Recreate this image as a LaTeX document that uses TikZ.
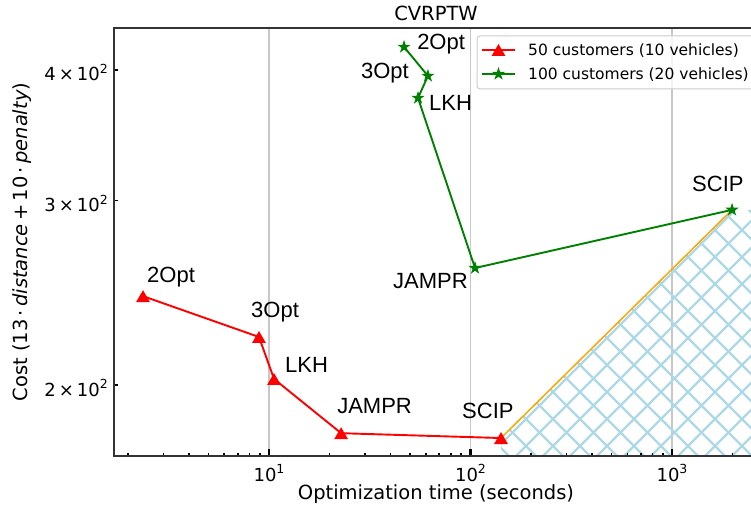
\documentclass[tikz,border=0pt]{standalone}
\usepackage{fontspec}
\setmainfont{DejaVu Sans}
\newfontfamily\annofont{Liberation Sans}
\usetikzlibrary{calc}
\usetikzlibrary{positioning}
\usetikzlibrary{shapes.geometric}
\definecolor{mplgreen}{HTML}{008000}
\definecolor{mplorange}{HTML}{FFA500}
\definecolor{hatchblue}{HTML}{ADD8E6}
\newcommand{\expo}[1]{\raisebox{0.42em}{\fontsize{12.5}{13}\selectfont #1}}
\tikzset{
	data/.style={shift={(67.5pt,-2279.2pt)}, x=201.5pt, y=1047pt},
	spine/.style={draw=black!80, line width=1.2pt},
	gridline/.style={draw=black!22, line width=1.1pt},
	majortick/.style={draw=black, line width=2.4pt},
	minortick/.style={draw=black, line width=1.6pt},
	redline/.style={draw=red, line width=1.9pt},
	greenline/.style={draw=mplgreen, line width=1.9pt},
	orangeline/.style={draw=mplorange, line width=1.5pt},
	hatchline/.style={draw=hatchblue, line width=2.3pt},
	tri/.style={
		regular polygon, regular polygon sides=3,
		fill=red, inner sep=0pt,
		minimum size=16pt, yshift=-2pt},
	starmark/.style={
		star, star points=5, star point ratio=2.6,
		fill=mplgreen, inner sep=0pt,
		minimum size=14pt},
	algname/.style={font=\annofont\fontsize{22}{24}\selectfont, anchor=base west, inner sep=0pt},
	ticklbl/.style={font=\fontsize{18}{20}\selectfont, inner sep=0pt},
	axlbl/.style={font=\fontsize{19.5}{22}\selectfont, inner sep=0pt, anchor=base},
	legtext/.style={font=\fontsize{15.5}{18}\selectfont, inner sep=0pt, anchor=base west},
	legbox/.style={draw=black!20, fill=white, fill opacity=0.8, rounded corners=3pt, line width=1pt},
}

\begin{document}
\begin{tikzpicture}[x=1pt, y=1pt]
	\useasboundingbox (0,0) rectangle (751,515);

	\begin{scope}[data]
		% axes corners (log10 of time, log10 of cost)
		\coordinate (ll) at (0.2308,2.2332);
		\coordinate (ur) at (3.43,2.6420);
		% 50 customers
		\coordinate (r2opt) at ({log10(2.37)},{log10(243.2)});
		\coordinate (r3opt) at ({log10(8.92)},{log10(222.3)});
		\coordinate (rlkh) at ({log10(10.59)},{log10(202.7)});
		\coordinate (rjampr) at ({log10(22.8)},{log10(179.9)});
		\coordinate (rscip) at ({log10(141.7)},{log10(178.0)});
		% 100 customers
		\coordinate (g2opt) at ({log10(46.8)},{log10(420.7)});
		\coordinate (g3opt) at ({log10(61.5)},{log10(394.7)});
		\coordinate (glkh) at ({log10(54.9)},{log10(376.0)});
		\coordinate (gjampr) at ({log10(105.3)},{log10(258.7)});
		\coordinate (gscip) at ({log10(1986)},{log10(294.0)});

		\foreach \e in {1,2,3}
			\draw[gridline] (\e,2.2332) -- (\e,2.6420);

		% hatched area below the SCIP line
		\coordinate (hbase) at (rscip |- ll);
		\begin{scope}
			\clip (rscip) -- (gscip) -- (gscip -| ur) -- (ur |- ll) -- (hbase) -- cycle;
			\foreach \k in {0,...,21} {
				\draw[hatchline] ([xshift={(27*\k-255)*1pt}]hbase) -- ++(600pt,600pt);
				\draw[hatchline] ([xshift={(27*\k+8)*1pt}]hbase) -- ++(-600pt,600pt);
			}
		\end{scope}

		% ticks
		\foreach \d in {0,1,2}
			\foreach \m in {2,...,9}
				\draw[minortick] ({\d+log10(\m)},2.2332) -- ++(0,3.5pt);
		\draw[minortick] ({3+log10(2)},2.2332) -- ++(0,3.5pt);
		\foreach \e in {1,2,3} {
			\draw[majortick] (\e,2.2332) -- ++(0,7pt);
			\node[ticklbl, anchor=base] (xt\e) at ([yshift=-25pt]\e,2.2332) {10\expo{\e}};
		}
		\foreach \v in {2,3,4} {
			\draw[minortick] (0.2308,{log10(\v*100)}) -- ++(3.5pt,0);
			\node[ticklbl, anchor=base east] (yt\v) at ([xshift=-6pt,yshift=-11pt]0.2308,{log10(\v*100)}) {\v\,×\,10\expo{2}};
		}
		\draw[spine] (ll) rectangle (ur);

		\draw[orangeline] (rscip) -- (gscip);
		\draw[redline] (r2opt) -- (r3opt) -- (rlkh) -- (rjampr) -- (rscip);
		\draw[greenline] (g2opt) -- (g3opt) -- (glkh) -- (gjampr) -- (gscip);
		\foreach \p in {r2opt,r3opt,rlkh,rjampr,rscip}
			\node[tri] (m\p) at (\p) {};
		\foreach \p in {g2opt,g3opt,glkh,gjampr,gscip}
			\node[starmark] (m\p) at (\p) {};

		\node[algname] (tr2opt) at ([shift={(4pt,14pt)}]r2opt) {2Opt};
		\node[algname] (tr3opt) at ([shift={(-8pt,19pt)}]r3opt) {3Opt};
		\node[algname] (trlkh) at ([shift={(11pt,6pt)}]rlkh) {LKH};
		\node[algname] (trjampr) at ([shift={(-4pt,20pt)}]rjampr) {JAMPR};
		\node[algname] (trscip) at ([shift={(-39pt,20pt)}]rscip) {SCIP};
		\node[algname] (tg2opt) at ([shift={(13pt,-3pt)}]g2opt) {2Opt};
		\node[algname] (tg3opt) at ([shift={(-67pt,-3pt)}]g3opt) {3Opt};
		\node[algname] (tglkh) at ([shift={(11pt,-12pt)}]glkh) {LKH};
		\node[algname] (tgjampr) at ([shift={(-82pt,-20pt)}]gjampr) {JAMPR};
		\node[algname] (tgscip) at ([shift={(-40pt,18pt)}]gscip) {SCIP};
	\end{scope}

	% legend
	\draw[legbox] (477,426) rectangle (754,479);
	\coordinate (leg1a) at (482,465);
	\coordinate (leg1b) at (515,465);
	\coordinate (leg2a) at (482,441);
	\coordinate (leg2b) at (515,441);
	\draw[redline] (leg1a) -- (leg1b);
	\node[tri] (leg1m) at ($(leg1a)!0.5!(leg1b)$) {};
	\node[legtext] (leg1t) at (528,459) {50 customers (10 vehicles)};
	\draw[greenline] (leg2a) -- (leg2b);
	\node[starmark] (leg2m) at ($(leg2a)!0.5!(leg2b)$) {};
	\node[legtext] (leg2t) at (528,435) {100 customers (20 vehicles)};

	% title and axis labels
	\node[axlbl] (title) at (436,494.5) {CVRPTW};
	\node[axlbl] (xlab) at (436,16) {Optimization time (seconds)};
	\node[axlbl, rotate=90] (ylab) at (27,273) {Cost (13\,·\,\textit{distance}\,+\,10\,·\,\textit{penalty})};
\end{tikzpicture}
\end{document}
